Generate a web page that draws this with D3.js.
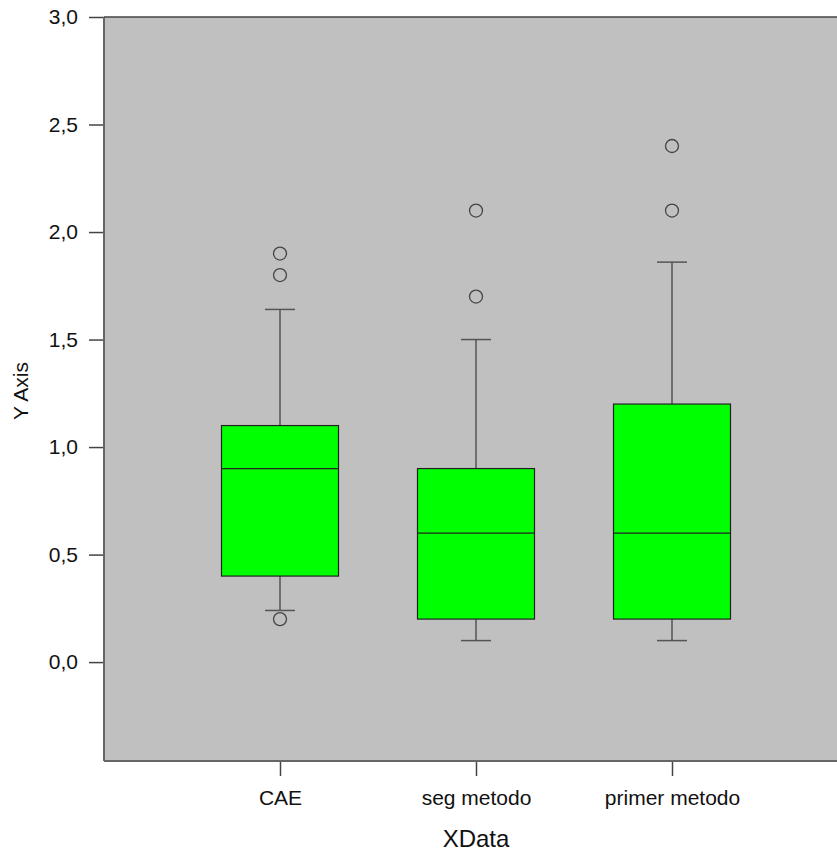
<!DOCTYPE html>
<html>
<head>
<meta charset="utf-8">
<script src="https://cdn.jsdelivr.net/npm/d3@7"></script>
<style>
  body { margin: 0; background: #fff; }
  svg { display: block; font-family: "Liberation Sans", Arial, sans-serif; }
</style>
</head>
<body>
<svg id="chart"></svg>
<script>
// Data
const categories = ["CAE", "seg metodo", "primer metodo"];
const q1 = [0.4, 0.2, 0.2];
const medians = [0.9, 0.6, 0.6];
const q3 = [1.1, 0.9, 1.2];
const whiskerLow = [0.24, 0.1, 0.1];
const whiskerHigh = [1.64, 1.5, 1.86];
const outliers = [[1.9, 1.8, 0.2], [2.1, 1.7], [2.4, 2.1]];
const yTicks = [0, 0.5, 1, 1.5, 2, 2.5, 3];

const W = 837, H = 852;
const margin = { top: 17, right: 0, bottom: 91, left: 104 };
const width = W - margin.left - margin.right;
const height = H - margin.top - margin.bottom;

const svg = d3.select("#chart")
    .attr("width", W)
    .attr("height", H);

const g = svg.append("g")
    .attr("transform", `translate(${margin.left},${margin.top})`);

const y = d3.scaleLinear()
    .domain([-0.46, 3])
    .range([height, 0]);

const x = d3.scalePoint()
    .domain(categories)
    .range([176, 568]);

const boxWidth = 117;
const capWidth = 30;

// plot background
g.append("rect")
    .attr("width", width)
    .attr("height", height)
    .attr("fill", "#c0c0c0");

const locale = d3.formatLocale({ decimal: ",", thousands: ".", grouping: [3], currency: ["", ""] });
const fmt = locale.format(".1f");

// Y axis
const yAxis = g.append("g")
    .call(d3.axisLeft(y).tickValues(yTicks).tickFormat(fmt).tickSize(15).tickPadding(11));
yAxis.select(".domain").remove();
yAxis.selectAll(".tick line").attr("stroke", "#444").attr("stroke-width", 1.5);
yAxis.selectAll(".tick text")
    .attr("font-size", 21)
    .attr("fill", "#111")
    .style("font-family", "Liberation Sans, Arial, sans-serif");

// X axis
const xAxis = g.append("g")
    .attr("transform", `translate(0,${height})`)
    .call(d3.axisBottom(x).tickSize(15).tickPadding(14));
xAxis.select(".domain").remove();
xAxis.selectAll(".tick line").attr("stroke", "#444").attr("stroke-width", 1.5);
xAxis.selectAll(".tick text")
    .attr("font-size", 21)
    .attr("fill", "#111")
    .style("font-family", "Liberation Sans, Arial, sans-serif");

// frame lines (left, top, bottom)
g.append("line").attr("x1", 0).attr("x2", 0).attr("y1", 0).attr("y2", height)
    .attr("stroke", "#666").attr("stroke-width", 2);
g.append("line").attr("x1", 0).attr("x2", width).attr("y1", 0).attr("y2", 0)
    .attr("stroke", "#444").attr("stroke-width", 1.5);
g.append("line").attr("x1", 0).attr("x2", width).attr("y1", height).attr("y2", height)
    .attr("stroke", "#666").attr("stroke-width", 2);

// boxes
const boxes = g.selectAll("g.box")
    .data(categories)
    .enter()
    .append("g")
    .attr("class", "box");

// whiskers
boxes.append("line")
    .attr("x1", d => x(d)).attr("x2", d => x(d))
    .attr("y1", (d, i) => y(whiskerHigh[i]))
    .attr("y2", (d, i) => y(q3[i]))
    .attr("stroke", "#555").attr("stroke-width", 1.5);
boxes.append("line")
    .attr("x1", d => x(d)).attr("x2", d => x(d))
    .attr("y1", (d, i) => y(q1[i]))
    .attr("y2", (d, i) => y(whiskerLow[i]))
    .attr("stroke", "#555").attr("stroke-width", 1.5);
boxes.append("line")
    .attr("x1", d => x(d) - capWidth / 2).attr("x2", d => x(d) + capWidth / 2)
    .attr("y1", (d, i) => y(whiskerHigh[i]))
    .attr("y2", (d, i) => y(whiskerHigh[i]))
    .attr("stroke", "#555").attr("stroke-width", 1.5);
boxes.append("line")
    .attr("x1", d => x(d) - capWidth / 2).attr("x2", d => x(d) + capWidth / 2)
    .attr("y1", (d, i) => y(whiskerLow[i]))
    .attr("y2", (d, i) => y(whiskerLow[i]))
    .attr("stroke", "#555").attr("stroke-width", 1.5);

boxes.append("rect")
    .attr("x", d => x(d) - boxWidth / 2)
    .attr("width", boxWidth)
    .attr("y", (d, i) => y(q3[i]))
    .attr("height", (d, i) => y(q1[i]) - y(q3[i]))
    .attr("fill", "#00ff00")
    .attr("stroke", "#222")
    .attr("stroke-width", 1.2);

boxes.append("line")
    .attr("x1", d => x(d) - boxWidth / 2).attr("x2", d => x(d) + boxWidth / 2)
    .attr("y1", (d, i) => y(medians[i]))
    .attr("y2", (d, i) => y(medians[i]))
    .attr("stroke", "#222").attr("stroke-width", 1.2);

// outliers
boxes.selectAll("circle")
    .data((d, i) => outliers[i].map(v => ({ cat: d, v: v })))
    .enter()
    .append("circle")
    .attr("cx", d => x(d.cat))
    .attr("cy", d => y(d.v))
    .attr("r", 6.5)
    .attr("fill", "none")
    .attr("stroke", "#444")
    .attr("stroke-width", 1.3);

// axis titles
svg.append("text")
    .attr("transform", `translate(28,391) rotate(-90)`)
    .attr("text-anchor", "middle")
    .attr("font-size", 21)
    .attr("fill", "#111")
    .text("Y Axis");

svg.append("text")
    .attr("x", margin.left + x("seg metodo"))
    .attr("y", 847)
    .attr("text-anchor", "middle")
    .attr("font-size", 24)
    .attr("fill", "#111")
    .text("XData");
</script>
</body>
</html>
